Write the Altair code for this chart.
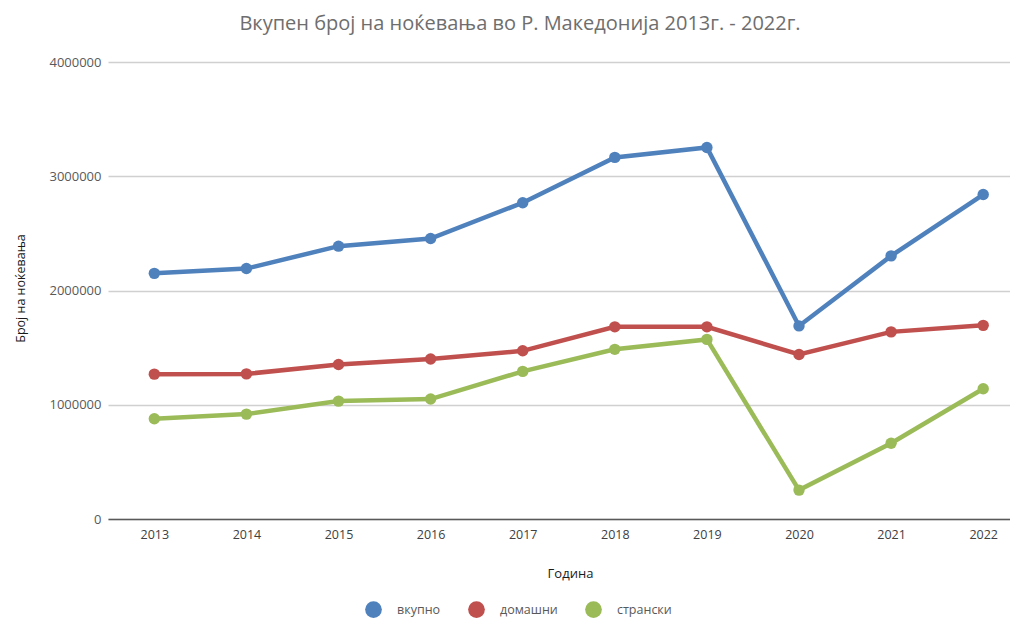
import altair as alt
import pandas as pd

years = [2013, 2014, 2015, 2016, 2017, 2018, 2019, 2020, 2021, 2022]
vkupno = [2150000, 2192000, 2388000, 2455000, 2768000, 3165000, 3252000, 1690000, 2303000, 2840000]
domashni = [1268000, 1270000, 1352000, 1400000, 1472000, 1682000, 1682000, 1440000, 1638000, 1695000]
stranski = [878000, 918000, 1032000, 1050000, 1292000, 1485000, 1572000, 253000, 663000, 1140000]

series_names = ["вкупно", "домашни", "странски"]
series_colors = ["#4F81BD", "#C0504D", "#9BBB59"]

rows = []
for name, vals in zip(series_names, [vkupno, domashni, stranski]):
    for y, v in zip(years, vals):
        rows.append({"Година": y, "Вредност": v, "Серија": name})
df = pd.DataFrame(rows)

FONT = "Open Sans"

x_enc = alt.X(
    "Година:Q",
    scale=alt.Scale(domain=[2012.497, 2022.291], nice=False, zero=False),
    axis=alt.Axis(
        values=years, format="d", grid=False, ticks=False,
        domainColor="#595959", domainWidth=1.3,
        labelColor="#404040", labelFontSize=12.5, labelPadding=9, labelFont=FONT,
        title="Година", titleFont=FONT, titleFontSize=13, titleFontWeight="normal",
        titleColor="#1a1a1a", titleX=462, titleY=54, titleBaseline="middle",
        titleAlign="center",
    ),
)
y_enc = alt.Y(
    "Вредност:Q",
    scale=alt.Scale(domain=[0, 4000000], nice=False),
    axis=alt.Axis(
        values=[0, 1000000, 2000000, 3000000, 4000000], format="d",
        grid=True, gridColor="#d0d0d0", gridWidth=1.3, domain=False, ticks=False,
        labelColor="#595959", labelFontSize=13, labelPadding=7, labelFont=FONT,
        title="Број на ноќевања", titleFont=FONT, titleFontSize=12.5,
        titleFontWeight="normal", titleColor="#1a1a1a",
        titleX=-88, titleY=226, titleAngle=270, titleBaseline="middle",
        titleAlign="center",
    ),
)
color_enc = alt.Color(
    "Серија:N",
    scale=alt.Scale(domain=series_names, range=series_colors),
    legend=alt.Legend(
        title=None, orient="none", direction="horizontal",
        legendX=257, legendY=539,
        symbolType="circle", symbolSize=280, symbolStrokeWidth=0,
        labelFont=FONT, labelFontSize=12.5, labelColor="#595959",
        labelOffset=15, columnPadding=27,
    ),
)

base = alt.Chart(df)
lines = base.mark_line(strokeWidth=4.5).encode(x=x_enc, y=y_enc, color=color_enc)
points = base.mark_point(filled=True, size=130, opacity=1).encode(
    x=x_enc, y=y_enc, color=color_enc
)

chart = (
    alt.layer(lines, points)
    .properties(
        width=902,
        height=457,
        autosize=alt.AutoSizeParams(type="none"),
        padding={"left": 100, "top": 54, "right": 0, "bottom": 100},
        title=alt.Title(
            "Вкупен број на ноќевања во Р. Македонија 2013г. - 2022г.",
            font=FONT, fontSize=20, fontWeight="normal", color="#6e6e6e",
            anchor="middle", frame="bounds", offset=22, dx=8,
        ),
    )
    .configure_view(stroke=None)
)

chart.save("out.html", embed_options={"renderer": "svg", "actions": False})
